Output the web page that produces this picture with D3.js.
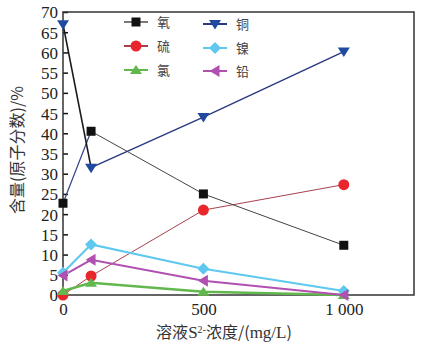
<!DOCTYPE html>
<html><head><meta charset="utf-8">
<script src="https://cdn.jsdelivr.net/npm/d3@7"></script>
<style>body{margin:0;background:#fff;}svg{display:block;}</style>
</head><body>
<svg id="c" width="423" height="344"></svg>
<script>
const xValues = [0, 100, 500, 1000];
const oxygen = [22.7, 40.5, 25.0, 12.3];
const sulfur = [0.0, 4.7, 21.0, 27.3];
const chlorine = [1.0, 3.0, 0.8, 0.0];
const copper = [67.0, 31.5, 44.0, 60.2];
const nickel = [5.5, 12.5, 6.5, 1.0];
const lead = [4.8, 8.7, 3.5, 0.0];
const seriesNames = ["氧", "硫", "氯", "铜", "镍", "铅"];
const yTicks = [0,5,10,15,20,25,30,35,40,45,50,55,60,65,70];
const xTicks = [0, 500, 1000];
const xTickLabels = ["0", "500", "1 000"];

const series = [
  {name: seriesNames[0], values: oxygen, marker: "square", fill: "#111", line: "#444", lw: 1, first: "#34428a"},
  {name: seriesNames[1], values: sulfur, marker: "circle", fill: "#e8262b", line: "#a8404c", lw: 1, first: null},
  {name: seriesNames[2], values: chlorine, marker: "triUp", fill: "#62b84c", line: "#62b84c", lw: 2.5, first: null},
  {name: seriesNames[3], values: copper, marker: "triDown", fill: "#1f4aa0", line: "#2b3a80", lw: 1.5, first: "#1a1a1a"},
  {name: seriesNames[4], values: nickel, marker: "diamond", fill: "#5ec8ee", line: "#5ec8ee", lw: 2, first: null},
  {name: seriesNames[5], values: lead, marker: "triLeft", fill: "#b050b0", line: "#b050b0", lw: 2, first: null}
];

const svg = d3.select("#c");
const L = 63, R = 414, T = 12, B = 295;
const x = d3.scaleLinear().domain([0, 1250]).range([L, R]);
const y = d3.scaleLinear().domain([0, 70]).range([B, T]);
const serif = "'Liberation Serif','DejaVu Serif',serif";
const cjk = "'Noto Sans CJK SC',sans-serif";

// axes
const yAxis = d3.axisLeft(y).tickValues(yTicks).tickSize(-5).tickPadding(5).tickFormat(d3.format("d"));
const gy = svg.append("g").attr("transform", `translate(${L},0)`).call(yAxis);
const xAxis = d3.axisBottom(x).tickValues(xTicks).tickSize(-5).tickPadding(8).tickFormat((d,i)=>xTickLabels[i]);
const gx = svg.append("g").attr("transform", `translate(0,${B})`).call(xAxis);
[gy, gx].forEach(g => {
  g.select(".domain").remove();
  g.selectAll(".tick line").attr("stroke", "#111").attr("stroke-width", 1.5);
  g.selectAll(".tick text").attr("font-family", serif).attr("font-size", 17).attr("fill", "#222");
});
gy.selectAll(".tick text").attr("dy", "0.35em");

// frame
svg.append("rect").attr("x", L).attr("y", T).attr("width", R - L).attr("height", B - T)
  .attr("fill", "none").attr("stroke", "#333").attr("stroke-width", 1.5);

// lines
const line = d3.line().x(d => x(d[0])).y(d => y(d[1]));
const drawOrder = [1, 2, 4, 5, 0, 3];
drawOrder.forEach(i => {
  const s = series[i];
  const pts = xValues.map((xv, j) => [xv, s.values[j]]);
  svg.append("path").attr("d", line(s.first ? pts.slice(1) : pts)).attr("fill", "none")
    .attr("stroke", s.line).attr("stroke-width", s.lw);
});
// first segments (colours as in the reference)
series.forEach(s => {
  if (!s.first) return;
  const pts = xValues.slice(0, 2).map((xv, j) => [xv, s.values[j]]);
  svg.append("path").attr("d", line(pts)).attr("fill", "none")
    .attr("stroke", s.first).attr("stroke-width", s === series[3] ? 1.6 : 1.2);
});

function markerPath(type) {
  switch (type) {
    case "square": return "M-4.5,-4.5H4.5V4.5H-4.5Z";
    case "triUp": return "M0,-5L6,4H-6Z";
    case "triDown": return "M-6,-4H6L0,5.5Z";
    case "triLeft": return "M-5.5,0L4.5,-6V6Z";
    case "diamond": return "M0,-6L6,0L0,6L-6,0Z";
  }
}
function drawMarker(g, s, cx, cy) {
  if (s.marker === "circle") {
    g.append("circle").attr("cx", cx).attr("cy", cy).attr("r", 5.5).attr("fill", s.fill);
  } else {
    g.append("path").attr("d", markerPath(s.marker)).attr("transform", `translate(${cx},${cy})`).attr("fill", s.fill);
  }
}
const gm = svg.append("g");
drawOrder.forEach(i => {
  const s = series[i];
  xValues.forEach((xv, j) => drawMarker(gm, s, x(xv), y(s.values[j])));
});

// legend
const legPos = [[124, 22], [124, 46], [124, 70], [203, 24], [203, 48], [203, 71]];
series.forEach((s, i) => {
  const [lx, ly] = legPos[i];
  const g = svg.append("g");
  g.append("line").attr("x1", lx).attr("x2", lx + 24).attr("y1", ly).attr("y2", ly)
    .attr("stroke", s.marker === "square" ? "#222" : (s.marker === "triDown" ? "#2b3a80" : s.line))
    .attr("stroke-width", s.marker === "square" ? 1.2 : 2);
  drawMarker(g, s, lx + 12, ly);
  g.append("text").attr("x", lx + 33).attr("y", ly).attr("dy", "0.35em")
    .attr("font-family", cjk).attr("font-size", 13).attr("fill", "#444").text(s.name);
});

// titles
svg.append("text").attr("transform", "translate(23,150) rotate(-90)").attr("text-anchor", "middle")
  .attr("font-family", cjk).attr("font-size", 16).attr("fill", "#333").text("含量(原子分数)/%");
const xt = svg.append("text").attr("x", 224).attr("y", 338).attr("text-anchor", "middle")
  .attr("font-family", cjk).attr("font-size", 16).attr("fill", "#333");
xt.append("tspan").text("溶液");
xt.append("tspan").attr("font-family", serif).attr("font-size", 17).text("S");
xt.append("tspan").attr("font-family", serif).attr("font-size", 10).attr("dy", -5).text("2-");
xt.append("tspan").attr("dy", 5).text("浓度/(");
xt.append("tspan").attr("font-family", serif).attr("font-size", 17).text("mg/L");
xt.append("tspan").text(")");
</script>
</body></html>
